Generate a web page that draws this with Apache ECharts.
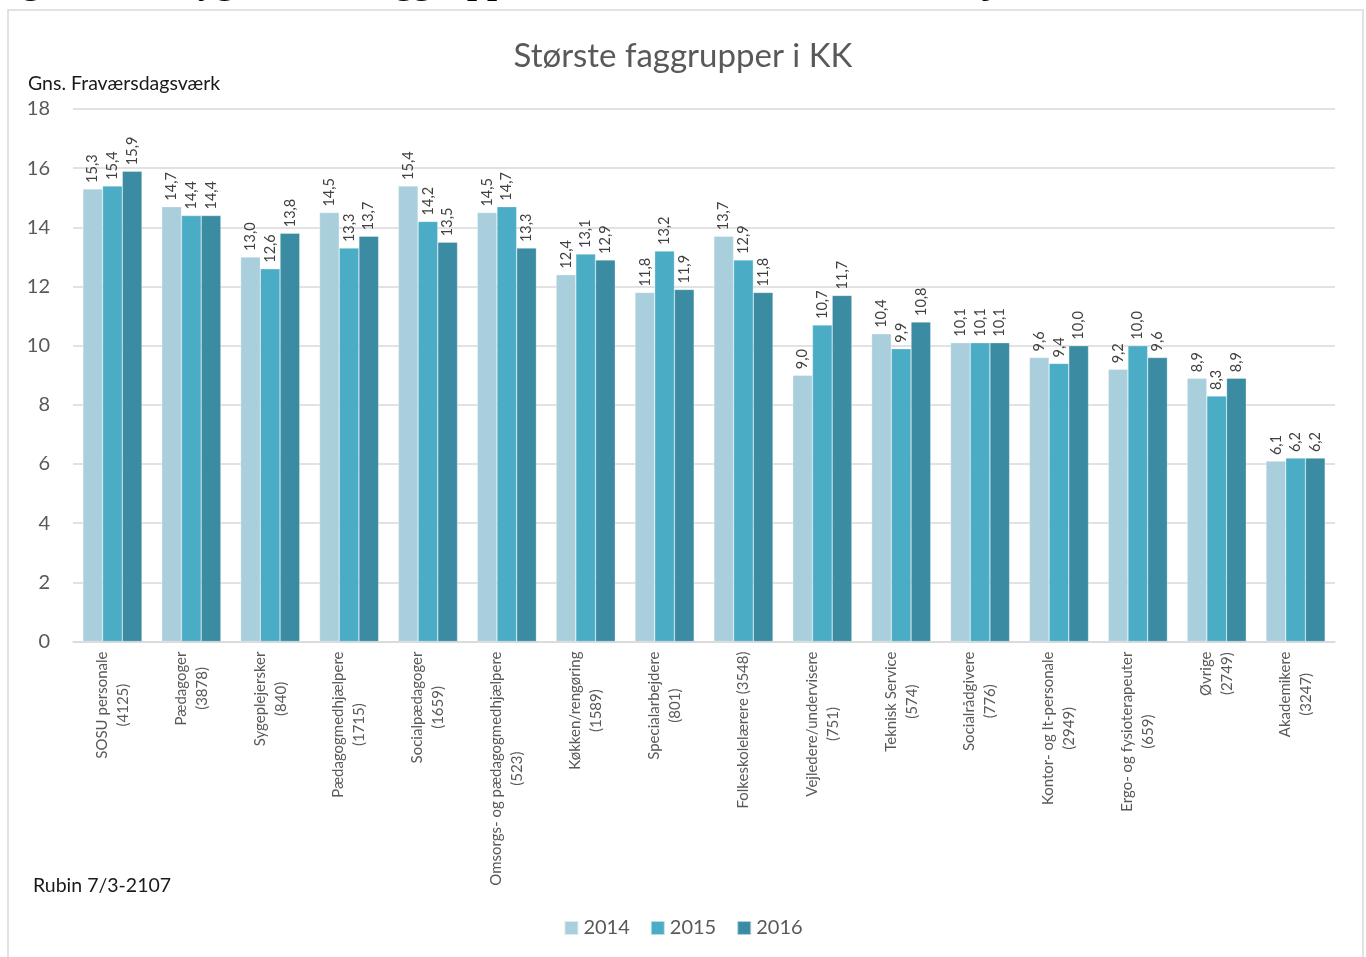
<!DOCTYPE html>
<html>
<head>
<meta charset="utf-8">
<title>Største faggrupper i KK</title>
<script src="https://cdn.jsdelivr.net/npm/echarts@6/dist/echarts.min.js"></script>
<style>
  html, body { margin: 0; padding: 0; background: #fff; }
  #chart { width: 1366px; height: 957px; }
</style>
</head>
<body>
<div id="chart"></div>
<script>
// faggrupper (antal medarbejdere)
const categories = [
  'SOSU personale\n(4125)',
  'Pædagoger\n(3878)',
  'Sygeplejersker\n(840)',
  'Pædagogmedhjælpere\n(1715)',
  'Socialpædagoger\n(1659)',
  'Omsorgs- og pædagogmedhjælpere\n(523)',
  'Køkken/rengøring\n(1589)',
  'Specialarbejdere\n(801)',
  'Folkeskolelærere (3548)',
  'Vejledere/undervisere\n(751)',
  'Teknisk Service\n(574)',
  'Socialrådgivere\n(776)',
  'Kontor- og It-personale\n(2949)',
  'Ergo- og fysioterapeuter\n(659)',
  'Øvrige\n(2749)',
  'Akademikere\n(3247)'
];
const years = ['2014', '2015', '2016'];
const values2014 = [15.3, 14.7, 13.0, 14.5, 15.4, 14.5, 12.4, 11.8, 13.7, 9.0, 10.4, 10.1, 9.6, 9.2, 8.9, 6.1];
const values2015 = [15.4, 14.4, 12.6, 13.3, 14.2, 14.7, 13.1, 13.2, 12.9, 10.7, 9.9, 10.1, 9.4, 10.0, 8.3, 6.2];
const values2016 = [15.9, 14.4, 13.8, 13.7, 13.5, 13.3, 12.9, 11.9, 11.8, 11.7, 10.8, 10.1, 10.0, 9.6, 8.9, 6.2];
const yTicks = [0, 2, 4, 6, 8, 10, 12, 14, 16, 18];

const FONT = 'Lato, "Open Sans", sans-serif';
const SERIF = 'bold 36px "Liberation Serif", "DejaVu Serif", serif';
const palette = ['#A9CFDC', '#4BACC6', '#3B8CA3'];
const seriesData = [values2014, values2015, values2016];

const chart = echarts.init(document.getElementById('chart'));

const series = years.map((y, i) => ({
  name: y,
  type: 'bar',
  data: seriesData[i],
  barGap: '0%',
  barCategoryGap: '25%',
  itemStyle: { color: palette[i], borderColor: 'rgba(255,255,255,0.6)', borderWidth: 0.5 },
  label: {
    show: true,
    position: 'top',
    rotate: 90,
    align: 'left',
    verticalAlign: 'middle',
    distance: 6,
    color: '#404040',
    fontFamily: FONT,
    fontSize: 14.5,
    formatter: p => p.value.toFixed(1).replace('.', ',')
  }
}));

chart.setOption({
  backgroundColor: '#fff',
  animation: false,
  color: palette,
  title: {
    text: 'Største faggrupper i KK',
    left: 'center',
    top: 35,
    textStyle: { color: '#595959', fontFamily: FONT, fontSize: 33, fontWeight: 'normal' }
  },
  legend: {
    data: years,
    top: 913,
    left: 'center',
    itemWidth: 14,
    itemHeight: 14,
    itemGap: 20,
    icon: 'rect',
    textStyle: { color: '#595959', fontFamily: FONT, fontSize: 20 }
  },
  grid: { left: 73, right: 31, top: 109, bottom: 315.5 },
  xAxis: {
    type: 'category',
    data: categories,
    axisLine: { lineStyle: { color: '#d9d9d9', width: 1.5 } },
    axisTick: { show: false },
    axisLabel: {
      interval: 0,
      rotate: 90,
      margin: 10,
      color: '#595959',
      fontFamily: FONT,
      fontSize: 15,
      lineHeight: 21,
      formatter: v => v.split('\n').map(s => '{c|' + s + '}').join('\n'),
      rich: { c: { align: 'center', color: '#595959', fontFamily: FONT, fontSize: 15, lineHeight: 21 } }
    }
  },
  yAxis: {
    type: 'value',
    min: yTicks[0],
    max: yTicks[yTicks.length - 1],
    interval: 2,
    axisLine: { show: false },
    axisTick: { show: false },
    axisLabel: { color: '#595959', fontFamily: FONT, fontSize: 20, margin: 23 },
    splitLine: { lineStyle: { color: '#d9d9d9', width: 1.5 } }
  },
  graphic: [
    {
      type: 'rect',
      shape: { x: 8, y: 10, width: 1355, height: 960 },
      style: { fill: null, stroke: '#d9d9d9', lineWidth: 1.5 },
      silent: true
    },
    {
      type: 'text',
      left: -10,
      top: -34,
      style: { text: 'Figur 15', fill: '#000', font: SERIF }
    },
    {
      type: 'text',
      left: 178,
      top: -34,
      style: {
        text: 'Sygefravær faggrupper i KK med over 500 medarbejdere, 2014-2016',
        fill: '#000',
        font: SERIF
      }
    },
    {
      type: 'text',
      left: 28,
      top: 74,
      style: { text: 'Gns. Fraværsdagsværk', fill: '#1a1a1a', font: '19.5px ' + FONT }
    },
    {
      type: 'text',
      left: 33,
      top: 876,
      style: { text: 'Rubin 7/3-2107', fill: '#1a1a1a', font: '19.5px ' + FONT }
    }
  ],
  series
});
</script>
</body>
</html>
